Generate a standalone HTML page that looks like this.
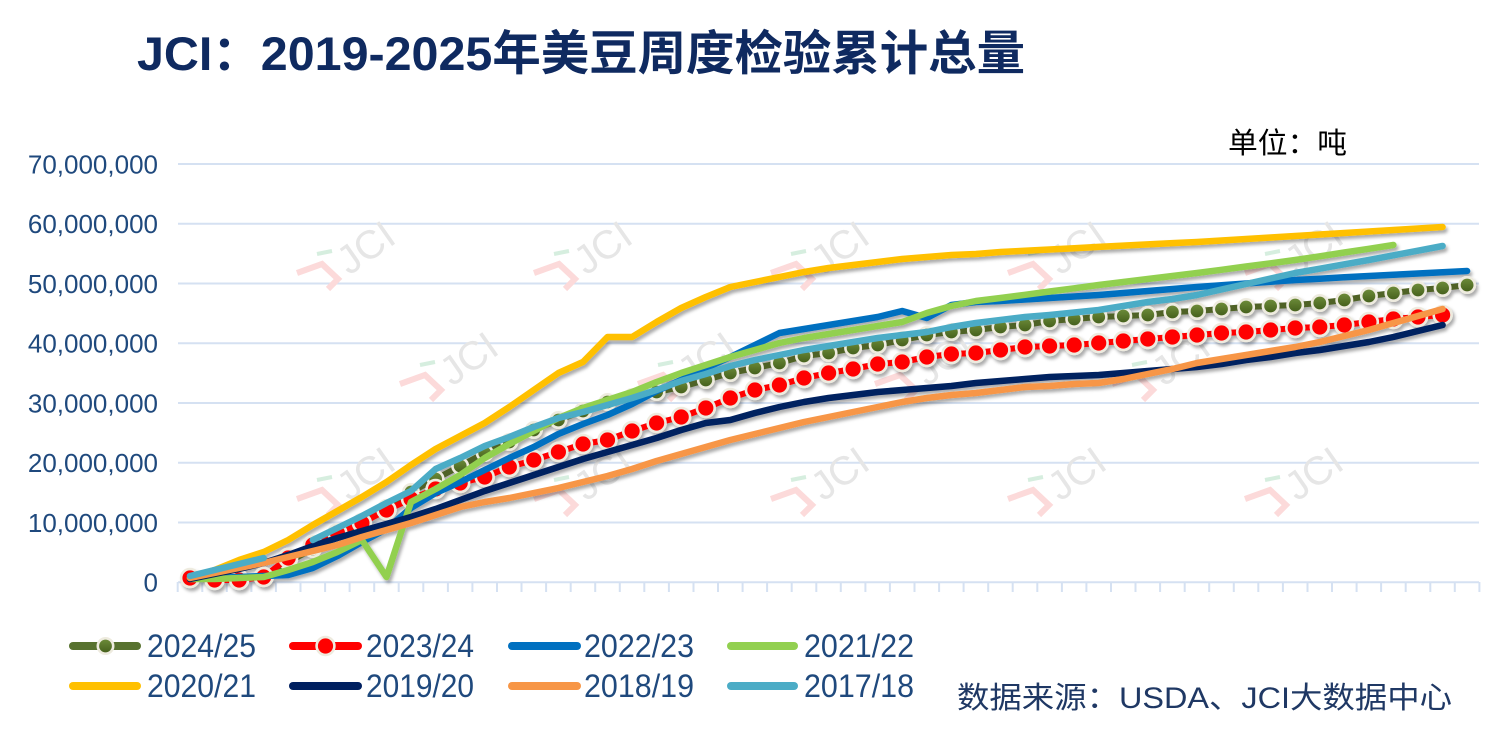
<!DOCTYPE html>
<html>
<head>
<meta charset="utf-8">
<style>
html,body{margin:0;padding:0;background:#fff;}
body{width:1494px;height:749px;overflow:hidden;}
svg{display:block;}
</style>
</head>
<body>
<svg width="1494" height="749" viewBox="0 0 1494 749" xmlns="http://www.w3.org/2000/svg">
<defs>
  <filter id="sh" filterUnits="userSpaceOnUse" x="0" y="0" width="1494" height="749">
    <feDropShadow dx="2" dy="3" stdDeviation="1.6" flood-color="#000" flood-opacity="0.33"/>
  </filter>
  <linearGradient id="og" x1="0" y1="0" x2="0" y2="1">
    <stop offset="0" stop-color="#6f8e3b"/>
    <stop offset="1" stop-color="#435d1a"/>
  </linearGradient>
  <marker id="mo" markerUnits="userSpaceOnUse" markerWidth="24" markerHeight="24" refX="12" refY="12" viewBox="0 0 24 24" overflow="visible">
    <circle cx="12" cy="12" r="7.7" fill="url(#og)" stroke="#eeebdf" stroke-width="2.6"/>
  </marker>
  <marker id="mr" markerUnits="userSpaceOnUse" markerWidth="26" markerHeight="26" refX="13" refY="13" viewBox="0 0 26 26" overflow="visible">
    <circle cx="13" cy="13" r="8.9" fill="#ff0000" stroke="#eeebdf" stroke-width="2.6"/>
  </marker>
</defs>

<rect x="0" y="0" width="1494" height="749" fill="#ffffff"/>

<!-- Title -->
<text x="137" y="70" font-family="'Liberation Sans','Noto Sans CJK SC',sans-serif" font-weight="bold" font-size="47.5" fill="#0f2a60" textLength="888" lengthAdjust="spacingAndGlyphs">JCI：2019-2025年美豆周度检验累计总量</text>

<!-- Unit -->
<text x="1228" y="153" font-family="'Liberation Sans','Noto Sans CJK SC',sans-serif" font-size="29" fill="#000" textLength="119" lengthAdjust="spacingAndGlyphs">单位：吨</text>

<!-- Gridlines -->
<g stroke="#d5e1f2" stroke-width="2">
  <line x1="178" y1="164.05" x2="1479" y2="164.05"/>
  <line x1="178" y1="223.8" x2="1479" y2="223.8"/>
  <line x1="178" y1="283.55" x2="1479" y2="283.55"/>
  <line x1="178" y1="343.3" x2="1479" y2="343.3"/>
  <line x1="178" y1="403.05" x2="1479" y2="403.05"/>
  <line x1="178" y1="462.8" x2="1479" y2="462.8"/>
  <line x1="178" y1="522.55" x2="1479" y2="522.55"/>
  <line x1="178" y1="582.3" x2="1479" y2="582.3"/>
</g>
<path stroke="#d5e1f2" stroke-width="2" fill="none" d="M177.7,582V592 M202.3,582V592 M226.8,582V592 M251.4,582V592 M275.9,582V592 M300.5,582V592 M325.1,582V592 M349.6,582V592 M374.2,582V592 M398.7,582V592 M423.3,582V592 M447.9,582V592 M472.4,582V592 M497,582V592 M521.5,582V592 M546.1,582V592 M570.7,582V592 M595.2,582V592 M619.8,582V592 M644.3,582V592 M668.9,582V592 M693.5,582V592 M718,582V592 M742.6,582V592 M767.1,582V592 M791.7,582V592 M816.3,582V592 M840.8,582V592 M865.4,582V592 M889.9,582V592 M914.5,582V592 M939.1,582V592 M963.6,582V592 M988.2,582V592 M1012.7,582V592 M1037.3,582V592 M1061.9,582V592 M1086.4,582V592 M1111,582V592 M1135.5,582V592 M1160.1,582V592 M1184.7,582V592 M1209.2,582V592 M1233.8,582V592 M1258.3,582V592 M1282.9,582V592 M1307.5,582V592 M1332,582V592 M1356.6,582V592 M1381.1,582V592 M1405.7,582V592 M1430.3,582V592 M1454.8,582V592 M1479.4,582V592"/>

<!-- Y axis labels -->
<g font-family="'Liberation Sans',sans-serif" font-size="26" fill="#1f497d" text-anchor="end">
  <text x="158" y="173.3">70,000,000</text>
  <text x="158" y="233">60,000,000</text>
  <text x="158" y="292.8">50,000,000</text>
  <text x="158" y="352.5">40,000,000</text>
  <text x="158" y="412.3">30,000,000</text>
  <text x="158" y="472">20,000,000</text>
  <text x="158" y="531.8">10,000,000</text>
  <text x="158" y="591.5">0</text>
</g>

<!-- Watermarks -->
<g font-family="'Liberation Sans',sans-serif" font-size="40" fill="#e6e6e6">
  <g transform="translate(297,226)"><path d="M0,47 L25,38 L41,53 L31,63" fill="none" stroke="#fcdada" stroke-width="6"/><path d="M20,28 L35,25" stroke="#d6eedf" stroke-width="4"/><text x="52" y="50" transform="rotate(-35 52 50)">JCI</text></g>
  <g transform="translate(534,226)"><path d="M0,47 L25,38 L41,53 L31,63" fill="none" stroke="#fcdada" stroke-width="6"/><path d="M20,28 L35,25" stroke="#d6eedf" stroke-width="4"/><text x="52" y="50" transform="rotate(-35 52 50)">JCI</text></g>
  <g transform="translate(771,226)"><path d="M0,47 L25,38 L41,53 L31,63" fill="none" stroke="#fcdada" stroke-width="6"/><path d="M20,28 L35,25" stroke="#d6eedf" stroke-width="4"/><text x="52" y="50" transform="rotate(-35 52 50)">JCI</text></g>
  <g transform="translate(1008,226)"><path d="M0,47 L25,38 L41,53 L31,63" fill="none" stroke="#fcdada" stroke-width="6"/><path d="M20,28 L35,25" stroke="#d6eedf" stroke-width="4"/><text x="52" y="50" transform="rotate(-35 52 50)">JCI</text></g>
  <g transform="translate(1245,226)"><path d="M0,47 L25,38 L41,53 L31,63" fill="none" stroke="#fcdada" stroke-width="6"/><path d="M20,28 L35,25" stroke="#d6eedf" stroke-width="4"/><text x="52" y="50" transform="rotate(-35 52 50)">JCI</text></g>
  <g transform="translate(400,337)"><path d="M0,47 L25,38 L41,53 L31,63" fill="none" stroke="#fcdada" stroke-width="6"/><path d="M20,28 L35,25" stroke="#d6eedf" stroke-width="4"/><text x="52" y="50" transform="rotate(-35 52 50)">JCI</text></g>
  <g transform="translate(638,337)"><path d="M0,47 L25,38 L41,53 L31,63" fill="none" stroke="#fcdada" stroke-width="6"/><path d="M20,28 L35,25" stroke="#d6eedf" stroke-width="4"/><text x="52" y="50" transform="rotate(-35 52 50)">JCI</text></g>
  <g transform="translate(875,337)"><path d="M0,47 L25,38 L41,53 L31,63" fill="none" stroke="#fcdada" stroke-width="6"/><path d="M20,28 L35,25" stroke="#d6eedf" stroke-width="4"/><text x="52" y="50" transform="rotate(-35 52 50)">JCI</text></g>
  <g transform="translate(1112,337)"><path d="M0,47 L25,38 L41,53 L31,63" fill="none" stroke="#fcdada" stroke-width="6"/><path d="M20,28 L35,25" stroke="#d6eedf" stroke-width="4"/><text x="52" y="50" transform="rotate(-35 52 50)">JCI</text></g>
  <g transform="translate(297,452)"><path d="M0,47 L25,38 L41,53 L31,63" fill="none" stroke="#fcdada" stroke-width="6"/><path d="M20,28 L35,25" stroke="#d6eedf" stroke-width="4"/><text x="52" y="50" transform="rotate(-35 52 50)">JCI</text></g>
  <g transform="translate(534,452)"><path d="M0,47 L25,38 L41,53 L31,63" fill="none" stroke="#fcdada" stroke-width="6"/><path d="M20,28 L35,25" stroke="#d6eedf" stroke-width="4"/><text x="52" y="50" transform="rotate(-35 52 50)">JCI</text></g>
  <g transform="translate(771,452)"><path d="M0,47 L25,38 L41,53 L31,63" fill="none" stroke="#fcdada" stroke-width="6"/><path d="M20,28 L35,25" stroke="#d6eedf" stroke-width="4"/><text x="52" y="50" transform="rotate(-35 52 50)">JCI</text></g>
  <g transform="translate(1008,452)"><path d="M0,47 L25,38 L41,53 L31,63" fill="none" stroke="#fcdada" stroke-width="6"/><path d="M20,28 L35,25" stroke="#d6eedf" stroke-width="4"/><text x="52" y="50" transform="rotate(-35 52 50)">JCI</text></g>
  <g transform="translate(1245,452)"><path d="M0,47 L25,38 L41,53 L31,63" fill="none" stroke="#fcdada" stroke-width="6"/><path d="M20,28 L35,25" stroke="#d6eedf" stroke-width="4"/><text x="52" y="50" transform="rotate(-35 52 50)">JCI</text></g>
</g>

<!-- Series -->
<g fill="none" stroke-linejoin="round" stroke-linecap="round" filter="url(#sh)">
  <polyline stroke="#4f6228" stroke-width="6" marker-start="url(#mo)" marker-mid="url(#mo)" marker-end="url(#mo)" points="190,579 214.6,579 239.1,578 263.7,576 288.2,562 312.8,549 337.4,536 361.9,522 386.5,508 411,492 435.6,479 460.2,466 484.7,453 509.3,442 533.8,430 558.4,420 583,411 607.5,402 632.1,397 656.6,392 681.2,387 705.8,380 730.3,373 754.9,368 779.4,363 804,356 828.6,353 853.1,348 877.7,345 902.2,340 926.8,335 951.4,332 975.9,330 1000.5,327 1025,325 1049.6,321 1074.2,319 1098.7,317 1123.3,316 1147.8,315 1172.4,312 1197,311 1221.5,309 1246.1,307 1270.6,306 1295.2,305 1319.8,303 1344.3,300 1368.9,296 1393.4,293 1418,290 1442.6,288 1467.1,285"/>
  <polyline stroke="#ff0000" stroke-width="6" marker-start="url(#mr)" marker-mid="url(#mr)" marker-end="url(#mr)" points="190,578 214.6,580 239.1,580 263.7,577 288.2,558 312.8,545 337.4,533 361.9,523 386.5,510 411,499 435.6,489 460.2,483 484.7,477 509.3,467 533.8,460 558.4,452 583,444 607.5,440 632.1,431 656.6,423 681.2,417 705.8,408 730.3,398 754.9,390 779.4,385 804,378 828.6,373 853.1,369 877.7,364 902.2,362 926.8,357 951.4,354 975.9,353 1000.5,350 1025,347 1049.6,346 1074.2,345 1098.7,343 1123.3,341 1147.8,339 1172.4,337 1197,335 1221.5,333 1246.1,332 1270.6,330 1295.2,328 1319.8,327 1344.3,325 1368.9,322 1393.4,319 1418,317 1442.6,315"/>
  <polyline stroke="#0070c0" stroke-width="6.5" points="190,579 214.6,578 239.1,577 263.7,576 288.2,575 312.8,568 337.4,556 361.9,542 386.5,529 411,508 435.6,493 460.2,482 484.7,470 509.3,458 533.8,447 558.4,434 583,424 607.5,415 632.1,404 656.6,391 681.2,380 705.8,368 730.3,357 754.9,345 779.4,333 804,329 828.6,325 853.1,321 877.7,317 902.2,311 926.8,318 951.4,305 975.9,302 1000.5,301 1025,299.5 1049.6,298 1074.2,296.5 1098.7,295 1123.3,293 1147.8,291 1172.4,289 1197,287 1221.5,285.3 1246.1,283.5 1270.6,281.8 1295.2,280 1319.8,278.7 1344.3,277.3 1368.9,276 1393.4,274.8 1418,273.5 1442.6,272.3 1467.1,271"/>
  <polyline stroke="#92d050" stroke-width="6.5" points="190,579 214.6,579 239.1,578 263.7,577 288.2,570 312.8,562 337.4,552 361.9,540 386.5,577 411,502 435.6,489 460.2,475 484.7,458 509.3,444 533.8,431 558.4,418 583,408 607.5,400 632.1,392 656.6,382 681.2,373 705.8,365 730.3,357 754.9,350 779.4,343 804,338 828.6,334 853.1,330 877.7,326 902.2,322 926.8,313 951.4,306 975.9,301 1000.5,298 1025,294.8 1049.6,291.5 1074.2,288.3 1098.7,285 1123.3,282 1147.8,279 1172.4,276 1197,273 1221.5,269.8 1246.1,266.5 1270.6,263.3 1295.2,260 1319.8,256.3 1344.3,252.5 1368.9,248.8 1393.4,245"/>
  <polyline stroke="#ffc000" stroke-width="6.5" points="190,578 214.6,570 239.1,560 263.7,552 288.2,540 312.8,525 337.4,511 361.9,497 386.5,482 411,465 435.6,449 460.2,436 484.7,423 509.3,407 533.8,390 558.4,373 583,362 607.5,337 632.1,337 656.6,322 681.2,308 705.8,297 730.3,287 754.9,282 779.4,277 804,272 828.6,268 853.1,265 877.7,262 902.2,259 926.8,257 951.4,255 975.9,254 1000.5,252 1025,250.8 1049.6,249.5 1074.2,248.2 1098.7,246.9 1123.3,245.6 1147.8,244.4 1172.4,243.1 1197,242 1221.5,240.5 1246.1,239 1270.6,237.5 1295.2,236 1319.8,234.5 1344.3,233 1368.9,231.5 1393.4,230 1418,228.5 1442.6,227"/>
  <polyline stroke="#002060" stroke-width="6.5" points="190,579 214.6,574 239.1,569 263.7,563 288.2,555 312.8,546 337.4,538 361.9,531 386.5,524 411,517 435.6,509 460.2,500 484.7,491 509.3,483 533.8,475 558.4,467 583,459 607.5,452 632.1,445 656.6,438 681.2,430 705.8,423 730.3,420 754.9,413 779.4,407 804,402 828.6,398 853.1,395 877.7,392 902.2,390 926.8,388 951.4,386 975.9,383 1000.5,381 1025,379 1049.6,377 1074.2,376 1098.7,375 1123.3,373 1147.8,371 1172.4,369 1197,367 1221.5,364 1246.1,360 1270.6,357 1295.2,353 1319.8,350 1344.3,346 1368.9,342 1393.4,337 1418,331 1442.6,325"/>
  <polyline stroke="#f79646" stroke-width="6.5" points="190,578 214.6,573 239.1,568 263.7,563 288.2,557 312.8,551 337.4,545 361.9,537 386.5,530 411,523 435.6,515 460.2,507 484.7,502 509.3,498 533.8,493 558.4,488 583,482 607.5,476 632.1,469 656.6,461 681.2,454 705.8,447 730.3,440 754.9,434 779.4,428 804,422 828.6,417 853.1,412 877.7,407 902.2,402 926.8,398 951.4,395 975.9,393 1000.5,390 1025,387 1049.6,386 1074.2,384 1098.7,383 1123.3,379 1147.8,374 1172.4,369 1197,363 1221.5,359 1246.1,355 1270.6,351 1295.2,347 1319.8,342 1344.3,336 1368.9,330 1393.4,323 1418,316 1442.6,309"/>
  <polyline stroke="#4bacc6" stroke-width="6.5" points="190,576 214.6,570 239.1,564 263.7,558"/>
  <polyline stroke="#4bacc6" stroke-width="6.5" points="312.8,540 337.4,528 361.9,516 386.5,503 411,491 435.6,469 460.2,458 484.7,446 509.3,437 533.8,427 558.4,418 583,412 607.5,405 632.1,398 656.6,390 681.2,381 705.8,374 730.3,366 754.9,360 779.4,355 804,350 828.6,346 853.1,342 877.7,338 902.2,335 926.8,332 951.4,327 975.9,323 1000.5,320 1025,317 1049.6,315 1074.2,312.5 1098.7,310 1123.3,306 1147.8,302 1172.4,299 1197,295 1221.5,289.5 1246.1,284 1270.6,278.5 1295.2,273 1319.8,268.7 1344.3,264.3 1368.9,260 1393.4,255.3 1418,250.7 1442.6,246"/>
</g>

<!-- Legend -->
<g stroke-linecap="round" stroke-width="8" fill="none">
  <line x1="73" y1="646" x2="137" y2="646" stroke="#58722f"/>
  <line x1="293" y1="646" x2="358" y2="646" stroke="#ff0000"/>
  <line x1="512" y1="646" x2="577" y2="646" stroke="#0070c0"/>
  <line x1="731" y1="646" x2="794" y2="646" stroke="#92d050"/>
  <line x1="73" y1="686" x2="137" y2="686" stroke="#ffc000"/>
  <line x1="293" y1="686" x2="358" y2="686" stroke="#002060"/>
  <line x1="512" y1="686" x2="577" y2="686" stroke="#f79646"/>
  <line x1="731" y1="686" x2="794" y2="686" stroke="#4bacc6"/>
</g>
<circle cx="105.5" cy="646" r="7.7" fill="url(#og)" stroke="#eeebdf" stroke-width="2.6"/>
<circle cx="325.5" cy="646" r="8.9" fill="#ff0000" stroke="#eeebdf" stroke-width="2.6"/>
<g font-family="'Liberation Sans',sans-serif" font-size="32" fill="#1f497d">
  <text x="147" y="657" textLength="109" lengthAdjust="spacingAndGlyphs">2024/25</text>
  <text x="366" y="657" textLength="108" lengthAdjust="spacingAndGlyphs">2023/24</text>
  <text x="584" y="657" textLength="110" lengthAdjust="spacingAndGlyphs">2022/23</text>
  <text x="804" y="657" textLength="110" lengthAdjust="spacingAndGlyphs">2021/22</text>
  <text x="147" y="697" textLength="109" lengthAdjust="spacingAndGlyphs">2020/21</text>
  <text x="366" y="697" textLength="108" lengthAdjust="spacingAndGlyphs">2019/20</text>
  <text x="584" y="697" textLength="110" lengthAdjust="spacingAndGlyphs">2018/19</text>
  <text x="804" y="697" textLength="110" lengthAdjust="spacingAndGlyphs">2017/18</text>
</g>

<!-- Source -->
<text x="957" y="708" font-family="'Liberation Sans','Noto Sans CJK SC',sans-serif" font-size="30" fill="#1f3864" textLength="495" lengthAdjust="spacingAndGlyphs">数据来源：USDA、JCI大数据中心</text>
</svg>
</body>
</html>
